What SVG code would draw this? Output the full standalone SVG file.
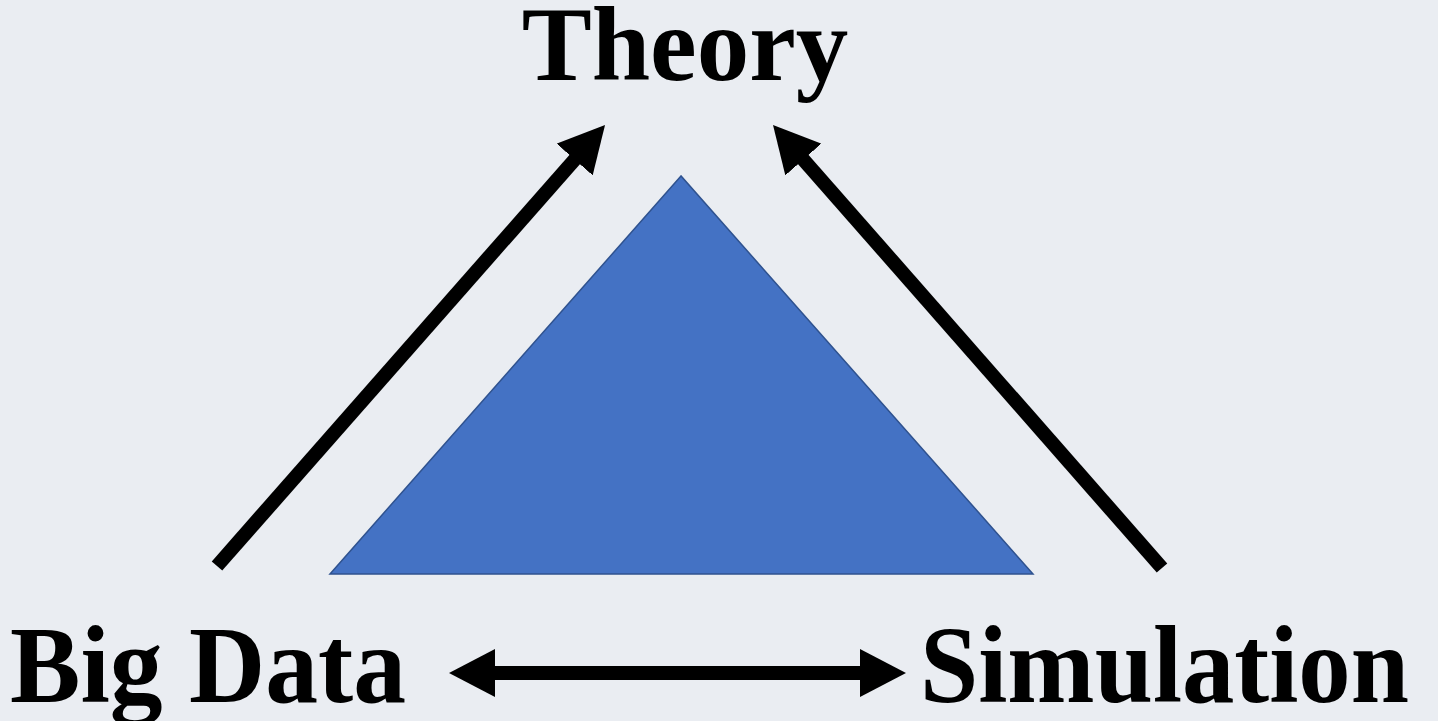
<svg xmlns="http://www.w3.org/2000/svg" width="1438" height="721" viewBox="0 0 1438 721">
<style>
.lbl{font-family:"Liberation Serif","Times New Roman",serif;font-weight:bold;font-size:105px;fill:#000}
.bot{font-size:110px}
.arr{stroke:#000;stroke-width:14;fill:none}
</style>
<defs>
<marker id="hd" markerUnits="userSpaceOnUse" viewBox="0 0 46 48" refX="1" refY="24" markerWidth="46" markerHeight="48" orient="auto-start-reverse">
<path d="M0,0 L46,24 L0,48 Z" fill="#000"/>
</marker>
</defs>
<rect width="1438" height="721" fill="#EAEDF2"/>
<g id="triangle">
<polygon points="681,176 330,574 1033,574" fill="#4472C4" stroke="#2F528F" stroke-width="1.5"/>
</g>
<g id="connectors">
<line class="arr" x1="217" y1="566" x2="575.3" y2="158.8" marker-end="url(#hd)"/>
<line class="arr" x1="1162" y1="568" x2="802.7" y2="158.8" marker-end="url(#hd)"/>
<line class="arr" x1="494" y1="673" x2="861" y2="673" stroke-width="15" marker-start="url(#hd)" marker-end="url(#hd)"/>
</g>
<g id="theory"><text class="lbl" x="685" y="80" text-anchor="middle">Theory</text></g>
<g id="bigdata"><text class="lbl bot" x="10" y="702" textLength="396" lengthAdjust="spacingAndGlyphs">Big Data</text></g>
<g id="simulation"><text class="lbl bot" x="920" y="702" textLength="489" lengthAdjust="spacingAndGlyphs">Simulation</text></g>
</svg>
